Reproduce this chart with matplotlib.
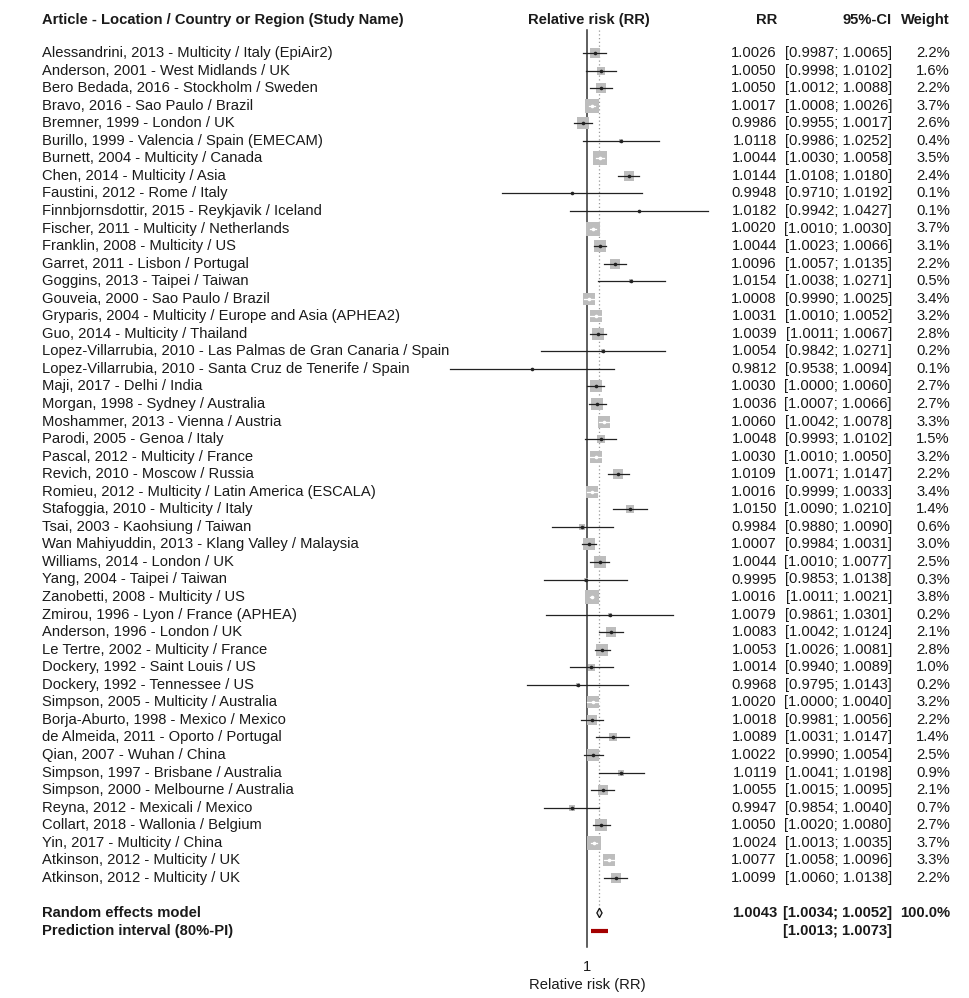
import numpy as np
import matplotlib
matplotlib.use("Agg")
import matplotlib.pyplot as plt
from matplotlib.patches import Polygon
from matplotlib.transforms import blended_transform_factory

plt.rcParams['font.family'] = ['Liberation Sans', 'DejaVu Sans']

# Study data
studies = [
    "Alessandrini, 2013 - Multicity / Italy (EpiAir2)",
    "Anderson, 2001 - West Midlands / UK",
    "Bero Bedada, 2016 - Stockholm / Sweden",
    "Bravo, 2016 - Sao Paulo / Brazil",
    "Bremner, 1999 - London / UK",
    "Burillo, 1999 - Valencia / Spain (EMECAM)",
    "Burnett, 2004 - Multicity / Canada",
    "Chen, 2014 - Multicity / Asia",
    "Faustini, 2012 - Rome / Italy",
    "Finnbjornsdottir, 2015 - Reykjavik / Iceland",
    "Fischer, 2011 - Multicity / Netherlands",
    "Franklin, 2008 - Multicity / US",
    "Garret, 2011 - Lisbon / Portugal",
    "Goggins, 2013 - Taipei / Taiwan",
    "Gouveia, 2000 - Sao Paulo / Brazil",
    "Gryparis, 2004 - Multicity / Europe and Asia (APHEA2)",
    "Guo, 2014 - Multicity / Thailand",
    "Lopez-Villarrubia, 2010 - Las Palmas de Gran Canaria / Spain",
    "Lopez-Villarrubia, 2010 - Santa Cruz de Tenerife / Spain",
    "Maji, 2017 - Delhi / India",
    "Morgan, 1998 - Sydney / Australia",
    "Moshammer, 2013 - Vienna / Austria",
    "Parodi, 2005 - Genoa / Italy",
    "Pascal, 2012 - Multicity / France",
    "Revich, 2010 - Moscow / Russia",
    "Romieu, 2012 - Multicity / Latin America (ESCALA)",
    "Stafoggia, 2010 - Multicity / Italy",
    "Tsai, 2003 - Kaohsiung / Taiwan",
    "Wan Mahiyuddin, 2013 - Klang Valley / Malaysia",
    "Williams, 2014 - London / UK",
    "Yang, 2004 - Taipei / Taiwan",
    "Zanobetti, 2008 - Multicity / US",
    "Zmirou, 1996 - Lyon / France (APHEA)",
    "Anderson, 1996 - London / UK",
    "Le Tertre, 2002 - Multicity / France",
    "Dockery, 1992 - Saint Louis / US",
    "Dockery, 1992 - Tennessee / US",
    "Simpson, 2005 - Multicity / Australia",
    "Borja-Aburto, 1998 - Mexico / Mexico",
    "de Almeida, 2011 - Oporto / Portugal",
    "Qian, 2007 - Wuhan / China",
    "Simpson, 1997 - Brisbane / Australia",
    "Simpson, 2000 - Melbourne / Australia",
    "Reyna, 2012 - Mexicali / Mexico",
    "Collart, 2018 - Wallonia / Belgium",
    "Yin, 2017 - Multicity / China",
    "Atkinson, 2012 - Multicity / UK",
    "Atkinson, 2012 - Multicity / UK",
]
rr = [1.0026, 1.0050, 1.0050, 1.0017, 0.9986, 1.0118, 1.0044, 1.0144, 0.9948, 1.0182,
      1.0020, 1.0044, 1.0096, 1.0154, 1.0008, 1.0031, 1.0039, 1.0054, 0.9812, 1.0030,
      1.0036, 1.0060, 1.0048, 1.0030, 1.0109, 1.0016, 1.0150, 0.9984, 1.0007, 1.0044,
      0.9995, 1.0016, 1.0079, 1.0083, 1.0053, 1.0014, 0.9968, 1.0020, 1.0018, 1.0089,
      1.0022, 1.0119, 1.0055, 0.9947, 1.0050, 1.0024, 1.0077, 1.0099]
lower = [0.9987, 0.9998, 1.0012, 1.0008, 0.9955, 0.9986, 1.0030, 1.0108, 0.9710, 0.9942,
         1.0010, 1.0023, 1.0057, 1.0038, 0.9990, 1.0010, 1.0011, 0.9842, 0.9538, 1.0000,
         1.0007, 1.0042, 0.9993, 1.0010, 1.0071, 0.9999, 1.0090, 0.9880, 0.9984, 1.0010,
         0.9853, 1.0011, 0.9861, 1.0042, 1.0026, 0.9940, 0.9795, 1.0000, 0.9981, 1.0031,
         0.9990, 1.0041, 1.0015, 0.9854, 1.0020, 1.0013, 1.0058, 1.0060]
upper = [1.0065, 1.0102, 1.0088, 1.0026, 1.0017, 1.0252, 1.0058, 1.0180, 1.0192, 1.0427,
         1.0030, 1.0066, 1.0135, 1.0271, 1.0025, 1.0052, 1.0067, 1.0271, 1.0094, 1.0060,
         1.0066, 1.0078, 1.0102, 1.0050, 1.0147, 1.0033, 1.0210, 1.0090, 1.0031, 1.0077,
         1.0138, 1.0021, 1.0301, 1.0124, 1.0081, 1.0089, 1.0143, 1.0040, 1.0056, 1.0147,
         1.0054, 1.0198, 1.0095, 1.0040, 1.0080, 1.0035, 1.0096, 1.0138]
weight = [2.2, 1.6, 2.2, 3.7, 2.6, 0.4, 3.5, 2.4, 0.1, 0.1,
          3.7, 3.1, 2.2, 0.5, 3.4, 3.2, 2.8, 0.2, 0.1, 2.7,
          2.7, 3.3, 1.5, 3.2, 2.2, 3.4, 1.4, 0.6, 3.0, 2.5,
          0.3, 3.8, 0.2, 2.1, 2.8, 1.0, 0.2, 3.2, 2.2, 1.4,
          2.5, 0.9, 2.1, 0.7, 2.7, 3.7, 3.3, 2.2]

re_est, re_lo, re_hi = 1.0043, 1.0034, 1.0052
pi_lo, pi_hi = 1.0013, 1.0073

W, H = 970, 998
fig = plt.figure(figsize=(W / 100, H / 100), dpi=100)
ax = fig.add_axes([0, 0, 1, 1])
ax.axis('off')

# log x scale: RR=1 sits at x=587 px, ~2905 px per log unit
PX = 2905.0
X1 = 587
ax.set_xscale('log')
ax.set_xlim(np.exp(-X1 / PX), np.exp((W - X1) / PX))
# rows: first study at y=53 px, 17.55 px apart
Y0, DY = 53, 17.55
ax.set_ylim((H - Y0) / DY, -Y0 / DY)

n = len(studies)
rows = np.arange(n)
re_row = n + 1
pi_row = n + 2

txt = '#1a1a1a'
fs = 10.6
tr = blended_transform_factory(fig.transFigure, ax.transData)

def fx(px):
    return px / W

# header
hy = (20 - Y0) / DY
ax.text(fx(42), hy, "Article - Location / Country or Region (Study Name)", transform=tr,
        fontsize=fs, fontweight='bold', va='center', ha='left', color=txt)
ax.text(fx(589), hy, "Relative risk (RR)", transform=tr, fontsize=fs, fontweight='bold',
        va='center', ha='center', color=txt)
ax.text(fx(777), hy, "RR", transform=tr, fontsize=fs, fontweight='bold', va='center', ha='right', color=txt)
ax.text(fx(892), hy, "95%-CI", transform=tr, fontsize=fs, fontweight='bold', va='center', ha='right', color=txt)
ax.text(fx(950), hy, "Weight", transform=tr, fontsize=fs, fontweight='bold', va='center', ha='right', color=txt)

# reference lines
top = (30 - Y0) / DY
ax.plot([1, 1], [top, (947 - Y0) / DY], color='#333333', lw=1.1, zorder=1)
ax.plot([re_est, re_est], [top, re_row - 0.3], color='#999999', lw=0.9, ls=(0, (1, 2)), zorder=1)

for i in rows:
    # square side grows with sqrt(weight); CI drawn white when it fits inside the square
    side_px = 7.0 * np.sqrt(weight[i])
    half = side_px / 2 / PX
    inside = (np.log(lower[i]) > np.log(rr[i]) - half) and (np.log(upper[i]) < np.log(rr[i]) + half)
    lc = 'white' if inside else '#222222'
    ax.scatter([rr[i]], [i], marker='s', s=(side_px * 0.72) ** 2, color='#bdbdbd', lw=0, zorder=2)
    ax.plot([lower[i], upper[i]], [i, i], color=lc, lw=0.9, zorder=3)
    ax.plot([rr[i]], [i], marker='o', ms=2.6, mew=0, color=lc, zorder=4)

    ax.text(fx(42), i, studies[i], transform=tr, fontsize=fs, va='center', ha='left', color=txt)
    ax.text(fx(777), i, f"{rr[i]:.4f}", transform=tr, fontsize=fs, va='center', ha='right', color=txt)
    ax.text(fx(892), i, f"[{lower[i]:.4f}; {upper[i]:.4f}]", transform=tr, fontsize=fs,
            va='center', ha='right', color=txt)
    ax.text(fx(950), i, f"{weight[i]:.1f}%", transform=tr, fontsize=fs, va='center', ha='right', color=txt)

# random effects diamond
dia = Polygon([(re_lo, re_row), (re_est, re_row - 0.27), (re_hi, re_row), (re_est, re_row + 0.27)],
              closed=True, facecolor='#e6e6e6', edgecolor='#111111', lw=0.9, zorder=3)
ax.add_patch(dia)
ax.text(fx(42), re_row, "Random effects model", transform=tr, fontsize=fs, fontweight='bold',
        va='center', ha='left', color=txt)
ax.text(fx(777), re_row, f"{re_est:.4f}", transform=tr, fontsize=fs, fontweight='bold',
        va='center', ha='right', color=txt)
ax.text(fx(892), re_row, f"[{re_lo:.4f}; {re_hi:.4f}]", transform=tr, fontsize=fs, fontweight='bold',
        va='center', ha='right', color=txt)
ax.text(fx(950), re_row, "100.0%", transform=tr, fontsize=fs, fontweight='bold',
        va='center', ha='right', color=txt)

# prediction interval
ax.plot([pi_lo, pi_hi], [pi_row, pi_row], color='#a40000', lw=3, solid_capstyle='butt', zorder=3)
ax.text(fx(42), pi_row, "Prediction interval (80%-PI)", transform=tr, fontsize=fs, fontweight='bold',
        va='center', ha='left', color=txt)
ax.text(fx(892), pi_row, f"[{pi_lo:.4f}; {pi_hi:.4f}]", transform=tr, fontsize=fs, fontweight='bold',
        va='center', ha='right', color=txt)

# axis label
ax.text(1, (967 - Y0) / DY, "1", fontsize=fs, va='center', ha='center', color=txt)
ax.text(1, (985 - Y0) / DY, "Relative risk (RR)", fontsize=fs, va='center', ha='center', color=txt)

fig.savefig("out.png", dpi=100)
